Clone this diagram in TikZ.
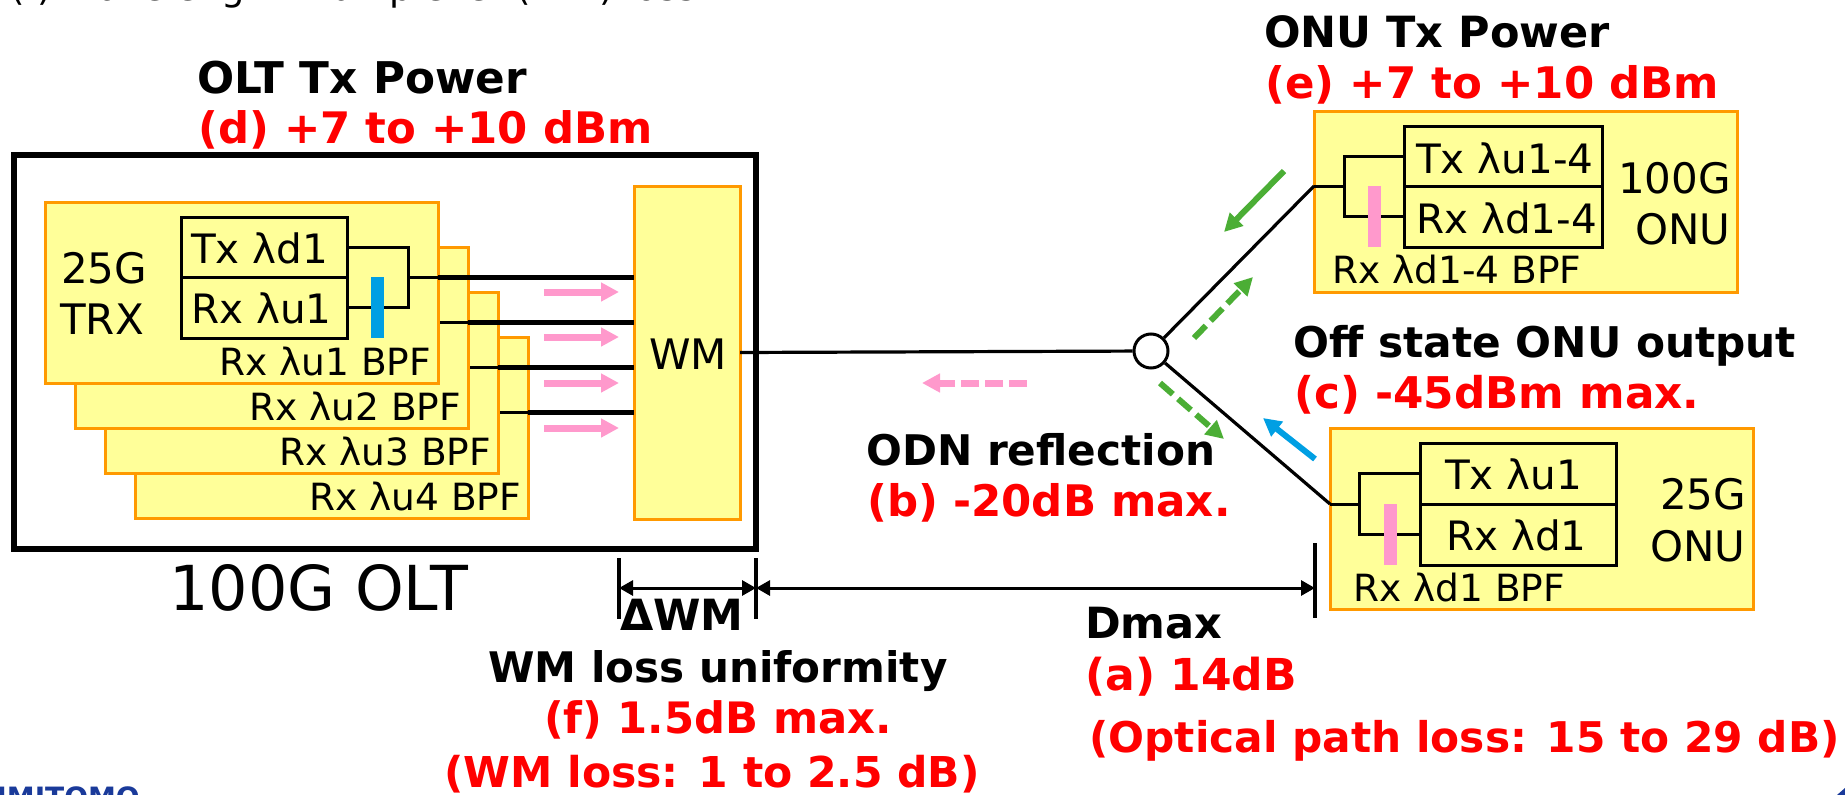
\documentclass[tikz,border=0pt]{standalone}
\usepackage{fontspec}
\setmainfont{DejaVu Sans}
\newfontfamily\boldfam{DejaVu Sans Bold}
\usetikzlibrary{arrows.meta, positioning, calc}
\definecolor{boxfill}{HTML}{FFFF99}
\definecolor{boxedge}{HTML}{FF9900}
\definecolor{pinkbar}{HTML}{FF99CC}
\definecolor{bluebar}{HTML}{009FE3}
\definecolor{greenarr}{HTML}{4BAE35}
\definecolor{logoblue}{HTML}{1A3A9A}
\newcommand{\fsz}[1]{\fontsize{#1}{#1}\selectfont}
\newcommand{\bsz}[1]{\boldfam\fontsize{#1}{#1}\selectfont}

\begin{document}
\begin{tikzpicture}[x=1pt, y=-1pt, >=Stealth,
    panel/.style={rectangle, draw=boxedge, fill=boxfill, line width=3pt,
      anchor=north west, inner sep=0pt, outer sep=0pt},
    card/.style={panel, minimum width=393pt, minimum height=181pt},
    onu/.style={panel, minimum width=423pt, minimum height=181pt},
    cell/.style={rectangle, draw=black, line width=3pt, anchor=north west,
      inner sep=0pt, outer sep=0pt},
    bar/.style={inner sep=0pt, outer sep=0pt, minimum width=13pt, minimum height=61pt,
      anchor=north west},
    wire/.style={line width=3pt, black},
    feed/.style={line width=5pt, black},
    fibre/.style={line width=3.2pt, black},
    tick/.style={line width=4pt, black},
    dim/.style={line width=3pt, black, {Triangle[length=14pt,width=15pt]}-{Triangle[length=14pt,width=15pt]}},
    flow/.style={line width=7pt, -{Triangle[length=18pt,width=18pt]}},
    flowd/.style={flow, dash pattern=on 18pt off 6pt},
    flowg/.style={flow, greenarr, line width=6pt, dash pattern=on 17pt off 7pt},
    txt/.style={anchor=base west, inner sep=0pt, font=\fsz{42}},
    cellt/.style={txt, font=\fsz{40.5}},
    small/.style={anchor=base west, inner sep=0pt, font=\fsz{37.5}},
    head/.style={anchor=base west, inner sep=0pt, font=\bsz{43}},
    spec/.style={head, text=red}]

  \useasboundingbox (0,0) rectangle (1845,795);

  % cut off line and logo at the edges
  \node[txt, font=\fsz{37}] (cuttitle) at (10,0) {(f) Wavelength multiplexer (WM) loss};
  \node[head, text=logoblue, font=\bsz{28}, anchor=base east] (logo) at (140,807) {SUMITOMO};
  \fill[logoblue] (1845,788) -- (1845,795) -- (1837,795) -- cycle;

  % 100G OLT frame
  \node[rectangle, draw=black, line width=5.5pt, anchor=north west, inner sep=0pt, outer sep=0pt,
    minimum width=742pt, minimum height=394pt] (olt) at (14,155) {};
  \node[txt, font=\fsz{62}] (oltname) at (169,610) {100G OLT};

  % stacked transceivers, back to front
  \foreach \n/\dx/\dy in {4/90/135, 3/60/90, 2/30/45, 1/0/0} {
    \begin{scope}[shift={(\dx,\dy)}]
      \node[card] (card\n) at (45,202) {};
      \node[small] (bpf\n) at (219,375) {Rx λu\n\ BPF};
      \coordinate (fork\n) at (408,277);
      \draw[wire] (408,247) -- (408,307);
      \draw[wire] (fork\n) -- (card\n.east |- fork\n);
    \end{scope}
  }

  % front transceiver
  \node[cell, minimum width=166pt, minimum height=60pt] (txo) at (181,217) {};
  \node[cell, minimum width=166pt, minimum height=61pt] (rxo) at (181,277) {};
  \node[cellt] (txolabel) at (191,263) {Tx λd1};
  \node[cellt] (rxolabel) at (191,323) {Rx λu1};
  \node[txt] (trx1) at (61,283) {25G};
  \node[txt] (trx2) at (60,334) {TRX};
  \draw[wire] (txo.east) -| (fork1);
  \draw[wire] (rxo.east) -| (fork1);
  \node[bar, fill=bluebar] (bpfo) at (371,277) {};

  % WM
  \node[panel, minimum width=106pt, minimum height=333pt] (wm) at (634,186) {};
  \node[txt] (wmlabel) at (649,369) {WM};

  % thick feeds and upstream arrows
  \foreach \n in {1,2,3,4}
    \draw[feed] (card\n.east |- fork\n) -- (wm.west |- fork\n);
  \foreach \y [count=\n] in {292,337,383,428} {
    \coordinate (upa\n) at (544,\y);
    \coordinate (upb\n) at (619,\y);
    \draw[flow, pinkbar] (upa\n) -- (upb\n);
  }

  % coupler and branches
  \node[circle, draw=black, fill=white, line width=3pt, minimum size=34pt, inner sep=0pt] (coupler) at (1151,351) {};
  \node[onu, minimum width=423.5pt] (onuup) at (1314,111) {};
  \node[onu] (onudn) at (1330,428) {};
  \draw[fibre] (wm.east) -- (coupler);

  % 100G ONU
  \node[cell, minimum width=197.5pt, minimum height=60pt] (txup) at (1404.5,126) {};
  \node[cell, minimum width=197.5pt, minimum height=61pt] (rxup) at (1404.5,186) {};
  \node[cellt] (txuplabel) at (1416,173) {Tx λu1-4};
  \node[cellt] (rxuplabel) at (1416,233) {Rx λd1-4};
  \node[small] (bpfup) at (1332,283) {Rx λd1-4 BPF};
  \node[txt] (nameup1) at (1618,193) {100G};
  \node[txt] (nameup2) at (1635,244) {ONU};
  \coordinate (forkup) at (1344,186);
  \coordinate (portup) at (onuup.west |- forkup);
  \draw[wire] (txup.west) -| (forkup) |- (rxup.west);
  \draw[wire] (portup) -- (forkup);
  \node[bar, fill=pinkbar] (barup) at (1368,186) {};
  \draw[fibre] (coupler) -- (portup);

  % 25G ONU
  \node[cell, minimum width=196pt, minimum height=61pt] (txdn) at (1420,443) {};
  \node[cell, minimum width=196pt, minimum height=61pt] (rxdn) at (1420,504) {};
  \node[cellt] (txdnlabel) at (1445,489) {Tx λu1};
  \node[cellt] (rxdnlabel) at (1446,550) {Rx λd1};
  \node[small] (bpfdn) at (1353,601) {Rx λd1 BPF};
  \node[txt] (namedn1) at (1660,509) {25G};
  \node[txt] (namedn2) at (1650,561) {ONU};
  \coordinate (forkdn) at (1359,504);
  \coordinate (portdn) at (onudn.west |- forkdn);
  \draw[wire] (txdn.west) -| (forkdn) |- (rxdn.west);
  \draw[wire] (portdn) -- (forkdn);
  \node[bar, fill=pinkbar] (bardn) at (1384,504) {};
  \draw[fibre] (coupler) -- (portdn);

  % signal arrows around the splitter
  \coordinate (gra) at (1284,171);  \coordinate (grb) at (1224,232);
  \coordinate (gsa) at (1194,338);  \coordinate (gsb) at (1253,277);
  \coordinate (gta) at (1160,383);  \coordinate (gtb) at (1224,439);
  \coordinate (bla) at (1315,459);  \coordinate (blb) at (1263,418);
  \coordinate (pka) at (1027,383);  \coordinate (pkb) at (922,383);
  \draw[flow, greenarr, line width=6pt] (gra) -- (grb);
  \draw[flowg] (gsa) -- (gsb);
  \draw[flowg] (gta) -- (gtb);
  \draw[flow, bluebar, line width=6pt] (bla) -- (blb);
  \draw[flowd, pinkbar] (pka) -- (pkb);

  % span markers
  \coordinate (ta) at (619,588);
  \coordinate (tb) at (756,588);
  \coordinate (tc) at (1315,588);
  \draw[tick] (619,558) -- (619,619);
  \draw[tick] (756,558) -- (756,619);
  \draw[tick] (1315,543) -- (1315,618);
  \draw[dim] (ta) -- (tb);
  \draw[dim] (tb) -- (tc);

  % captions
  \node[head, font=\bsz{43.7}] (oltpow) at (197,93) {OLT Tx Power};
  \node[spec, font=\bsz{43.4}] (oltval) at (198,143) {(d) +7 to +10 dBm};
  \node[head] (onupow) at (1264,47) {ONU Tx Power};
  \node[spec, font=\bsz{43.5}] (onuval) at (1265,98) {(e) +7 to +10 dBm};
  \node[head, font=\bsz{42.3}] (offcap) at (1293,357) {Off state ONU output};
  \node[spec, font=\bsz{43.7}] (offval) at (1294,408) {(c) -45dBm max.};
  \node[head, font=\bsz{42.2}] (odncap) at (866,465) {ODN reflection};
  \node[spec, font=\bsz{43.5}] (odnval) at (867,516) {(b) -20dB max.};
  \node[head] (dwm) at (620,630) {ΔWM};
  \node[head, font=\bsz{42.1}] (wmcap) at (488,682) {WM loss uniformity};
  \node[spec, font=\bsz{43.3}] (wmval) at (544,733) {(f) 1.5dB max.};
  \node[spec, font=\bsz{42.5}] (wmloss) at (444,787) {(WM loss: 1 to 2.5 dB)};
  \node[head] (dmax) at (1085,638) {Dmax};
  \node[spec, font=\bsz{44}] (dval) at (1085,690) {(a) 14dB};
  \node[spec, font=\bsz{42.3}] (dloss) at (1089,752) {(Optical path loss: 15 to 29 dB)};

\end{tikzpicture}
\end{document}
